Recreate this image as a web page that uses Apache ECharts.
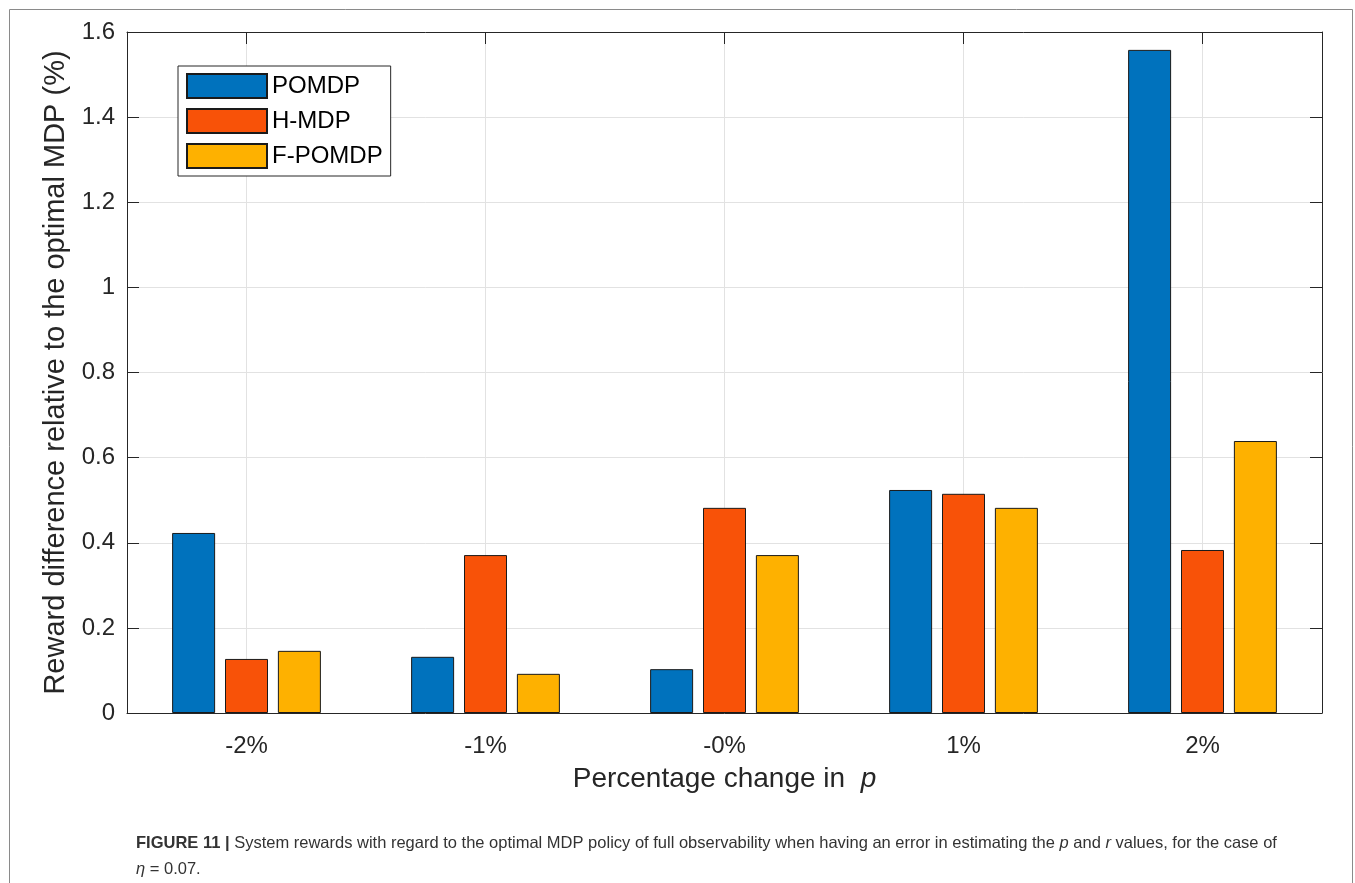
<!DOCTYPE html>
<html>
<head>
<meta charset="utf-8">
<script src="https://cdn.jsdelivr.net/npm/echarts@6/dist/echarts.min.js"></script>
<style>
html,body{margin:0;padding:0;background:#fff;}
#chart{width:1355px;height:883px;}
</style>
</head>
<body>
<div id="chart"></div>
<script>
// ---- data ----
const categories = ['-2%', '-1%', '-0%', '1%', '2%'];
const seriesNames = ['POMDP', 'H-MDP', 'F-POMDP'];
const pomdp  = [0.423, 0.132, 0.103, 0.524, 1.558];
const hmdp   = [0.127, 0.371, 0.482, 0.515, 0.383];
const fpomdp = [0.146, 0.092, 0.371, 0.482, 0.639];
const yTicks = [0, 0.2, 0.4, 0.6, 0.8, 1, 1.2, 1.4, 1.6];

const colors = ['#0072BD', '#F85208', '#FEB100'];
const axisColor = '#262626';
const gridColor = '#e2e2e2';
const font = '"Liberation Sans", Arial, Helvetica, sans-serif';
const capFont = '"Liberation Sans", Arial, sans-serif';

// helper axis with slots at category centres (for centred grid lines / top ticks)
const slots = [''];
categories.forEach(c => { slots.push(c); slots.push(''); });
const isCentre = (i) => i % 2 === 1;

const chart = echarts.init(document.getElementById('chart'), null, {renderer: 'canvas'});

const barStyle = (i) => ({
  color: colors[i],
  borderColor: '#1a1a1a',
  borderWidth: 1
});

const option = {
  animation: false,
  backgroundColor: '#fff',
  textStyle: {fontFamily: font},
  grid: {left: 127, right: 33, top: 32, bottom: 170, containLabel: false},
  legend: {
    orient: 'vertical',
    left: 178, top: 66,
    padding: [7, 8, 7, 8],
    itemWidth: 80, itemHeight: 24, itemGap: 9,
    icon: 'rect',
    backgroundColor: '#fff',
    borderColor: axisColor, borderWidth: 1,
    textStyle: {fontSize: 24, color: '#000', fontFamily: font},
    data: seriesNames
  },
  xAxis: [
    {
      type: 'category', data: categories, position: 'bottom',
      axisLine: {show: true, lineStyle: {color: axisColor, width: 1}},
      axisTick: {show: true, inside: true, alignWithLabel: true, length: 12, lineStyle: {color: axisColor}},
      axisLabel: {fontSize: 24, color: axisColor, margin: 21, fontFamily: font},
      splitLine: {show: false},
      name: 'Percentage change in  {i|p}',
      nameLocation: 'middle', nameGap: 52,
      nameTextStyle: {fontSize: 28, color: axisColor, fontFamily: font,
        rich: {i: {fontSize: 28, fontStyle: 'italic', color: axisColor, fontFamily: font}}}
    },
    {
      type: 'category', data: slots, boundaryGap: false, position: 'top',
      axisLine: {show: true, onZero: false, lineStyle: {color: axisColor, width: 1}},
      axisTick: {show: true, inside: true, length: 12, interval: isCentre, lineStyle: {color: axisColor}},
      axisLabel: {show: false},
      splitLine: {show: true, interval: isCentre, lineStyle: {color: gridColor, width: 1}}
    }
  ],
  yAxis: [
    {
      type: 'value', min: yTicks[0], max: yTicks[yTicks.length - 1], interval: 0.2, position: 'left',
      axisLine: {show: true, lineStyle: {color: axisColor, width: 1}},
      axisTick: {show: true, inside: true, length: 12, lineStyle: {color: axisColor}},
      axisLabel: {fontSize: 24, color: axisColor, margin: 12, fontFamily: font},
      splitLine: {show: true, lineStyle: {color: gridColor, width: 1}},
      name: 'Reward difference relative to the optimal MDP (%)',
      nameLocation: 'middle', nameGap: 57,
      nameTextStyle: {fontSize: 29, color: axisColor, fontFamily: font}
    },
    {
      type: 'value', min: yTicks[0], max: yTicks[yTicks.length - 1], interval: 0.2, position: 'right',
      axisLine: {show: true, lineStyle: {color: axisColor, width: 1}},
      axisTick: {show: true, inside: true, length: 12, lineStyle: {color: axisColor}},
      axisLabel: {show: false},
      splitLine: {show: false}
    }
  ],
  series: [
    {name: seriesNames[0], type: 'bar', data: pomdp, barWidth: 43, barGap: '23%', itemStyle: barStyle(0)},
    {name: seriesNames[1], type: 'bar', data: hmdp, barWidth: 43, barGap: '23%', itemStyle: barStyle(1)},
    {name: seriesNames[2], type: 'bar', data: fpomdp, barWidth: 43, barGap: '23%', itemStyle: barStyle(2)}
  ],
  graphic: [
    {
      type: 'rect', x: 0, y: 0, silent: true, z: -10,
      shape: {x: 9.5, y: 9.5, width: 1343, height: 900},
      style: {fill: 'none', stroke: '#8a8a8a', lineWidth: 1}
    },
    {
      type: 'text', left: 136, top: 835,
      style: {
        text: '{b|FIGURE 11 | }System rewards with regard to the optimal MDP policy of full observability when having an error in estimating the {i|p} and {i|r} values, for the case of',
        font: '16.5px ' + capFont,
        fill: '#333',
        rich: {
          b: {fontWeight: 'bold', fontSize: 16.5, fill: '#333', fontFamily: capFont},
          i: {fontStyle: 'italic', fontSize: 16.5, fill: '#333', fontFamily: capFont}
        }
      }
    },
    {
      type: 'text', left: 136, top: 861,
      style: {
        text: '{i|η} = 0.07.',
        font: '16.5px ' + capFont,
        fill: '#333',
        rich: {
          i: {fontStyle: 'italic', fontSize: 16.5, fill: '#333', fontFamily: capFont}
        }
      }
    }
  ]
};
chart.setOption(option);
</script>
</body>
</html>
